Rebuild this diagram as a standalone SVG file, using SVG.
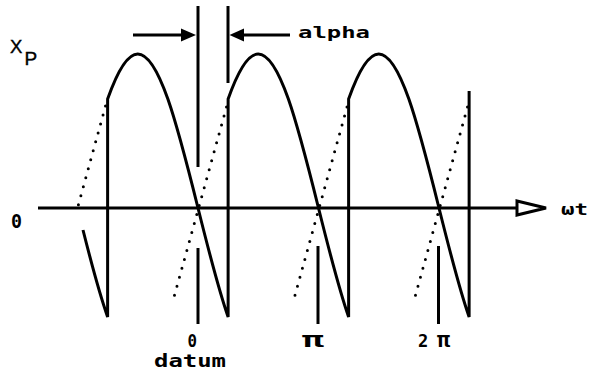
<svg xmlns="http://www.w3.org/2000/svg" width="589" height="373" viewBox="0 0 589 373">
<defs>
<style>
.ln{fill:none;stroke:#000;stroke-width:3;stroke-linecap:butt}
.dot{fill:none;stroke:#000;stroke-width:3;stroke-linecap:round;stroke-dasharray:0 9.3}
.wave{fill:none;stroke:#000;stroke-width:3;stroke-linejoin:miter}
.lbl{font-family:"DejaVu Sans Mono","Liberation Mono",monospace;font-weight:bold;fill:#000}
.sans{font-family:"Liberation Sans",Arial,sans-serif;fill:#000;stroke:#000;stroke-width:0.4}
</style>
</defs>
<rect width="589" height="373" fill="#fff"/>
<g id="axis">
<line class="ln" x1="38" y1="208" x2="518" y2="208"/>
<polygon points="517,201 546,208 517,215" fill="#fff" stroke="#000" stroke-width="3" stroke-linejoin="miter"/>
</g>
<g id="waveform">
<path class="wave" d="M83 230 C91.21 262.6 99.41 293.6 107.62 316.9 V99.1 C117.67 70.6 127.71 54 137.75 54 C147.79 54 157.83 70.6 167.88 99.1 C177.92 127.6 187.96 167.69 198 208 C208.04 248.31 218.08 288.4 228.12 316.9 V99.1 C238.17 70.6 248.21 54 258.25 54 C268.29 54 278.33 70.6 288.38 99.1 C298.42 127.6 308.46 167.69 318.5 208 C328.54 248.31 338.58 288.4 348.62 316.9 V99.1 C358.67 70.6 368.71 54 378.75 54 C388.79 54 398.83 70.6 408.88 99.1 C418.92 127.6 428.96 167.69 439 208 C449.04 248.31 459.08 288.4 469.12 316.9 V91"/>
</g>
<g id="dotted">
<line class="dot" x1="105.5" y1="106" x2="77.5" y2="208"/>
<line class="dot" x1="226.5" y1="107" x2="174" y2="297"/>
<line class="dot" x1="347" y1="107" x2="294.5" y2="297"/>
<line class="dot" x1="467.5" y1="107" x2="415" y2="297"/>
</g>
<g id="alpha-marker">
<line class="ln" x1="198" y1="6" x2="198" y2="167"/>
<line class="ln" x1="228" y1="6" x2="228" y2="83"/>
<line class="ln" x1="133" y1="35" x2="183" y2="35"/>
<polygon points="181,28.5 196,35 181,41.5" fill="#000"/>
<line class="ln" x1="290" y1="35" x2="241" y2="35"/>
<polygon points="244,28.5 229.5,35 244,41.5" fill="#000"/>
<text class="lbl" x="298" y="38" font-size="15" textLength="72" lengthAdjust="spacingAndGlyphs">alpha</text>
</g>
<g id="ticks">
<line class="ln" x1="198" y1="248" x2="198" y2="324"/>
<line class="ln" x1="318" y1="246" x2="318" y2="324"/>
<line class="ln" x1="438.5" y1="246" x2="438.5" y2="324"/>
</g>
<g id="labels">
<text class="sans" x="10" y="53" font-size="18.5">X</text>
<text class="sans" x="24.5" y="65" font-size="19">P</text>
<text class="lbl" x="11" y="228" font-size="20" textLength="11" lengthAdjust="spacingAndGlyphs">0</text>
<text class="lbl" x="187.5" y="347" font-size="17" textLength="9.5" lengthAdjust="spacingAndGlyphs">0</text>
<text class="lbl" x="154" y="367" font-size="18" textLength="72" lengthAdjust="spacingAndGlyphs">datum</text>
<text class="lbl" x="302" y="347" font-size="22" textLength="22" lengthAdjust="spacingAndGlyphs">π</text>
<text class="lbl" x="418" y="347" font-size="17">2<tspan x="437" font-size="22">π</tspan></text>
<text class="lbl" x="561" y="215" font-size="15" textLength="27" lengthAdjust="spacingAndGlyphs">ωt</text>
</g>
</svg>
